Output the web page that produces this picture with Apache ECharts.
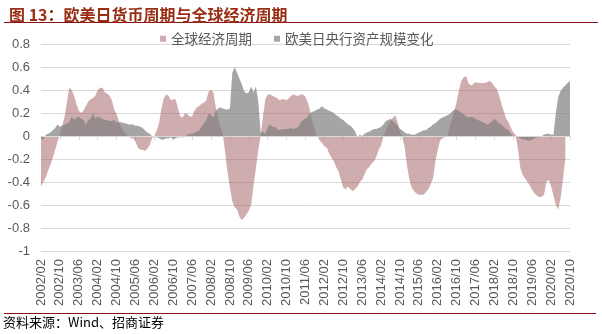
<!DOCTYPE html>
<html>
<head>
<meta charset="utf-8">
<script src="https://cdn.jsdelivr.net/npm/echarts@6/dist/echarts.min.js"></script>
<style>
html,body{margin:0;padding:0;background:#fff;}
#chart{width:602px;height:334px;}
</style>
</head>
<body>
<div id="chart"></div>
<script>
// Monthly categories 2002/02 .. 2020/10
var startYear = 2002, startMonth = 2, monthCount = 225;
var categories = [];
for (var k = 0; k < monthCount; k++) {
  var m = startMonth - 1 + k;
  var y = startYear + Math.floor(m / 12);
  var mm = (m % 12) + 1;
  categories.push(y + '/' + (mm < 10 ? '0' + mm : '' + mm));
}

var seriesNames = ['全球经济周期', '欧美日央行资产规模变化'];

var globalCycle = [
  -0.44,-0.40,-0.36,-0.30,-0.25,-0.19,-0.12,-0.05,0.02,0.09,0.17,0.30,0.42,0.40,0.35,
  0.28,0.22,0.20,0.22,0.26,0.30,0.32,0.33,0.35,0.40,0.42,0.42,0.38,0.37,0.35,
  0.31,0.23,0.19,0.13,0.08,0.04,0.02,0.00,-0.02,-0.02,-0.05,-0.10,-0.12,-0.12,-0.13,
  -0.11,-0.08,-0.02,0.00,0.05,0.11,0.24,0.33,0.36,0.35,0.31,0.32,0.32,0.24,0.17,
  0.16,0.20,0.19,0.17,0.17,0.22,0.25,0.26,0.28,0.29,0.31,0.39,0.40,0.38,0.25,
  0.15,0.08,0.02,-0.15,-0.32,-0.45,-0.57,-0.62,-0.64,-0.70,-0.73,-0.71,-0.68,-0.65,-0.60,
  -0.43,-0.28,-0.12,0.00,0.17,0.32,0.36,0.36,0.35,0.34,0.33,0.31,0.32,0.32,0.31,
  0.33,0.35,0.36,0.35,0.35,0.36,0.36,0.34,0.29,0.21,0.12,0.05,0.00,-0.04,-0.06,
  -0.09,-0.10,-0.15,-0.19,-0.22,-0.27,-0.31,-0.38,-0.45,-0.46,-0.44,-0.46,-0.48,-0.46,-0.44,
  -0.40,-0.38,-0.33,-0.29,-0.27,-0.24,-0.22,-0.18,-0.12,-0.08,0.00,0.05,0.10,0.13,0.16,
  0.18,0.12,0.04,-0.01,-0.10,-0.26,-0.38,-0.45,-0.48,-0.50,-0.51,-0.51,-0.51,-0.49,-0.46,
  -0.42,-0.37,-0.22,-0.12,-0.04,-0.02,-0.01,0.00,0.08,0.14,0.21,0.30,0.40,0.48,0.51,
  0.52,0.46,0.44,0.45,0.47,0.46,0.46,0.46,0.46,0.47,0.48,0.46,0.43,0.41,0.35,
  0.28,0.21,0.15,0.12,0.07,0.03,0.01,-0.12,-0.28,-0.34,-0.37,-0.40,-0.43,-0.47,-0.50,
  -0.52,-0.53,-0.53,-0.51,-0.40,-0.38,-0.44,-0.52,-0.60,-0.64,-0.54,-0.38,-0.20,null,null
];

var cbAssets = [
  -0.02,-0.03,0.01,0.02,0.03,0.05,0.07,0.10,0.08,0.09,0.10,0.11,0.12,0.17,0.14,
  0.16,0.17,0.15,0.14,0.10,0.14,0.15,0.20,0.15,0.17,0.16,0.15,0.14,0.14,0.13,
  0.13,0.14,0.12,0.12,0.12,0.11,0.11,0.10,0.10,0.10,0.09,0.09,0.08,0.07,0.05,
  0.03,0.02,0.00,-0.01,-0.01,-0.02,-0.03,-0.03,-0.02,-0.02,-0.01,-0.03,-0.02,-0.01,-0.01,
  -0.01,-0.01,0.01,0.02,0.02,0.03,0.04,0.05,0.08,0.11,0.14,0.20,0.18,0.16,0.22,
  0.24,0.25,0.24,0.23,0.23,0.24,0.55,0.60,0.55,0.50,0.45,0.39,0.37,0.38,0.43,
  0.38,0.43,0.30,0.03,0.04,0.02,0.08,0.10,0.08,0.08,0.06,0.05,0.06,0.06,0.06,
  0.06,0.07,0.06,0.07,0.08,0.12,0.14,0.15,0.17,0.20,0.21,0.22,0.23,0.24,0.26,
  0.24,0.23,0.22,0.21,0.20,0.18,0.17,0.15,0.14,0.12,0.10,0.09,0.07,0.04,-0.01,
  0.01,0.00,0.02,0.03,0.04,0.05,0.06,0.06,0.07,0.08,0.10,0.13,0.14,0.15,0.13,
  0.11,0.09,0.06,0.05,0.03,0.02,0.02,0.01,0.01,0.02,0.03,0.04,0.05,0.05,0.07,
  0.08,0.10,0.11,0.13,0.15,0.16,0.17,0.18,0.19,0.21,0.23,0.23,0.22,0.20,0.19,
  0.17,0.16,0.17,0.16,0.15,0.14,0.13,0.12,0.11,0.10,0.11,0.13,0.15,0.13,0.11,
  0.10,0.08,0.06,0.05,0.02,0.00,-0.01,-0.01,-0.02,-0.03,-0.03,-0.04,-0.04,-0.03,-0.02,
  -0.01,-0.01,0.00,0.01,0.02,0.02,0.01,0.01,0.20,0.34,0.39,0.42,0.44,0.46,0.48
];

var yMin = -1, yMax = 0.8, yStep = 0.2;
var labelEvery = 8;

var FONT = '"Liberation Sans", Arial, "Noto Sans CJK SC", sans-serif';
var CJK = '"Noto Sans CJK SC", "Liberation Sans", sans-serif';
var pinkColor = 'rgba(160,90,92,0.5)';
var grayColor = 'rgba(127,127,127,0.7)';

var chart = echarts.init(document.getElementById('chart'), null, {renderer: 'canvas'});
chart.setOption({
  animation: false,
  backgroundColor: '#ffffff',
  title: {
    text: '图 13：欧美日货币周期与全球经济周期',
    left: 4, top: 2,
    textStyle: {fontFamily: CJK, fontSize: 16, fontWeight: 'bold', color: '#9A2E14'}
  },
  legend: {
    left: 155, top: 27,
    icon: 'rect', itemWidth: 6, itemHeight: 6, itemGap: 22,
    textStyle: {fontFamily: CJK, fontSize: 13.5, color: '#595959'},
    data: seriesNames
  },
  graphic: [
    {type: 'line', shape: {x1: 4, y1: 22.5, x2: 598, y2: 22.5}, style: {stroke: '#8B1010', lineWidth: 1.2}, silent: true},
    {type: 'line', shape: {x1: 4, y1: 313.5, x2: 596, y2: 313.5}, style: {stroke: '#8B1010', lineWidth: 1.2}, silent: true},
    {type: 'text', left: 3, top: 316, style: {text: '资料来源：Wind、招商证券', fill: '#000', font: '13px "Noto Sans CJK SC", sans-serif'}, silent: true}
  ],
  grid: {left: 41, right: 32, top: 44, bottom: 83, containLabel: false},
  xAxis: [
    {
      type: 'category', data: categories, boundaryGap: false,
      axisLine: {show: true, onZero: true, lineStyle: {color: '#D9D9D9', width: 1}},
      axisTick: {show: true, interval: labelEvery - 1, length: 4, lineStyle: {color: '#D9D9D9'}},
      axisLabel: {show: false},
      splitLine: {show: false}
    },
    {
      type: 'category', data: categories, boundaryGap: false, position: 'bottom',
      axisLine: {show: false, onZero: false},
      axisTick: {show: false},
      axisLabel: {show: true, interval: labelEvery - 1, rotate: 90, margin: 8,
        fontFamily: FONT, fontSize: 13, color: '#595959'},
      splitLine: {show: false}
    }
  ],
  yAxis: {
    type: 'value', min: yMin, max: yMax, interval: yStep,
    axisLine: {show: false}, axisTick: {show: false},
    axisLabel: {fontFamily: FONT, fontSize: 13, color: '#595959', margin: 11,
      formatter: function (v) { return String(Math.round(v * 10) / 10); }},
    splitLine: {show: true, lineStyle: {color: '#D9D9D9', width: 1}}
  },
  series: [
    {
      name: seriesNames[0], type: 'line', xAxisIndex: 0, data: globalCycle,
      showSymbol: false, symbol: 'none', connectNulls: false,
      lineStyle: {width: 0}, itemStyle: {color: pinkColor},
      areaStyle: {color: pinkColor, opacity: 1}
    },
    {
      name: seriesNames[1], type: 'line', xAxisIndex: 0, data: cbAssets,
      showSymbol: false, symbol: 'none',
      lineStyle: {width: 0}, itemStyle: {color: grayColor},
      areaStyle: {color: grayColor, opacity: 1},
      markLine: {silent: true, symbol: 'none', label: {show: false},
        lineStyle: {color: '#D9D9D9', width: 1, type: 'solid'},
        data: [{yAxis: 0}]}
    }
  ]
});
</script>
</body>
</html>
